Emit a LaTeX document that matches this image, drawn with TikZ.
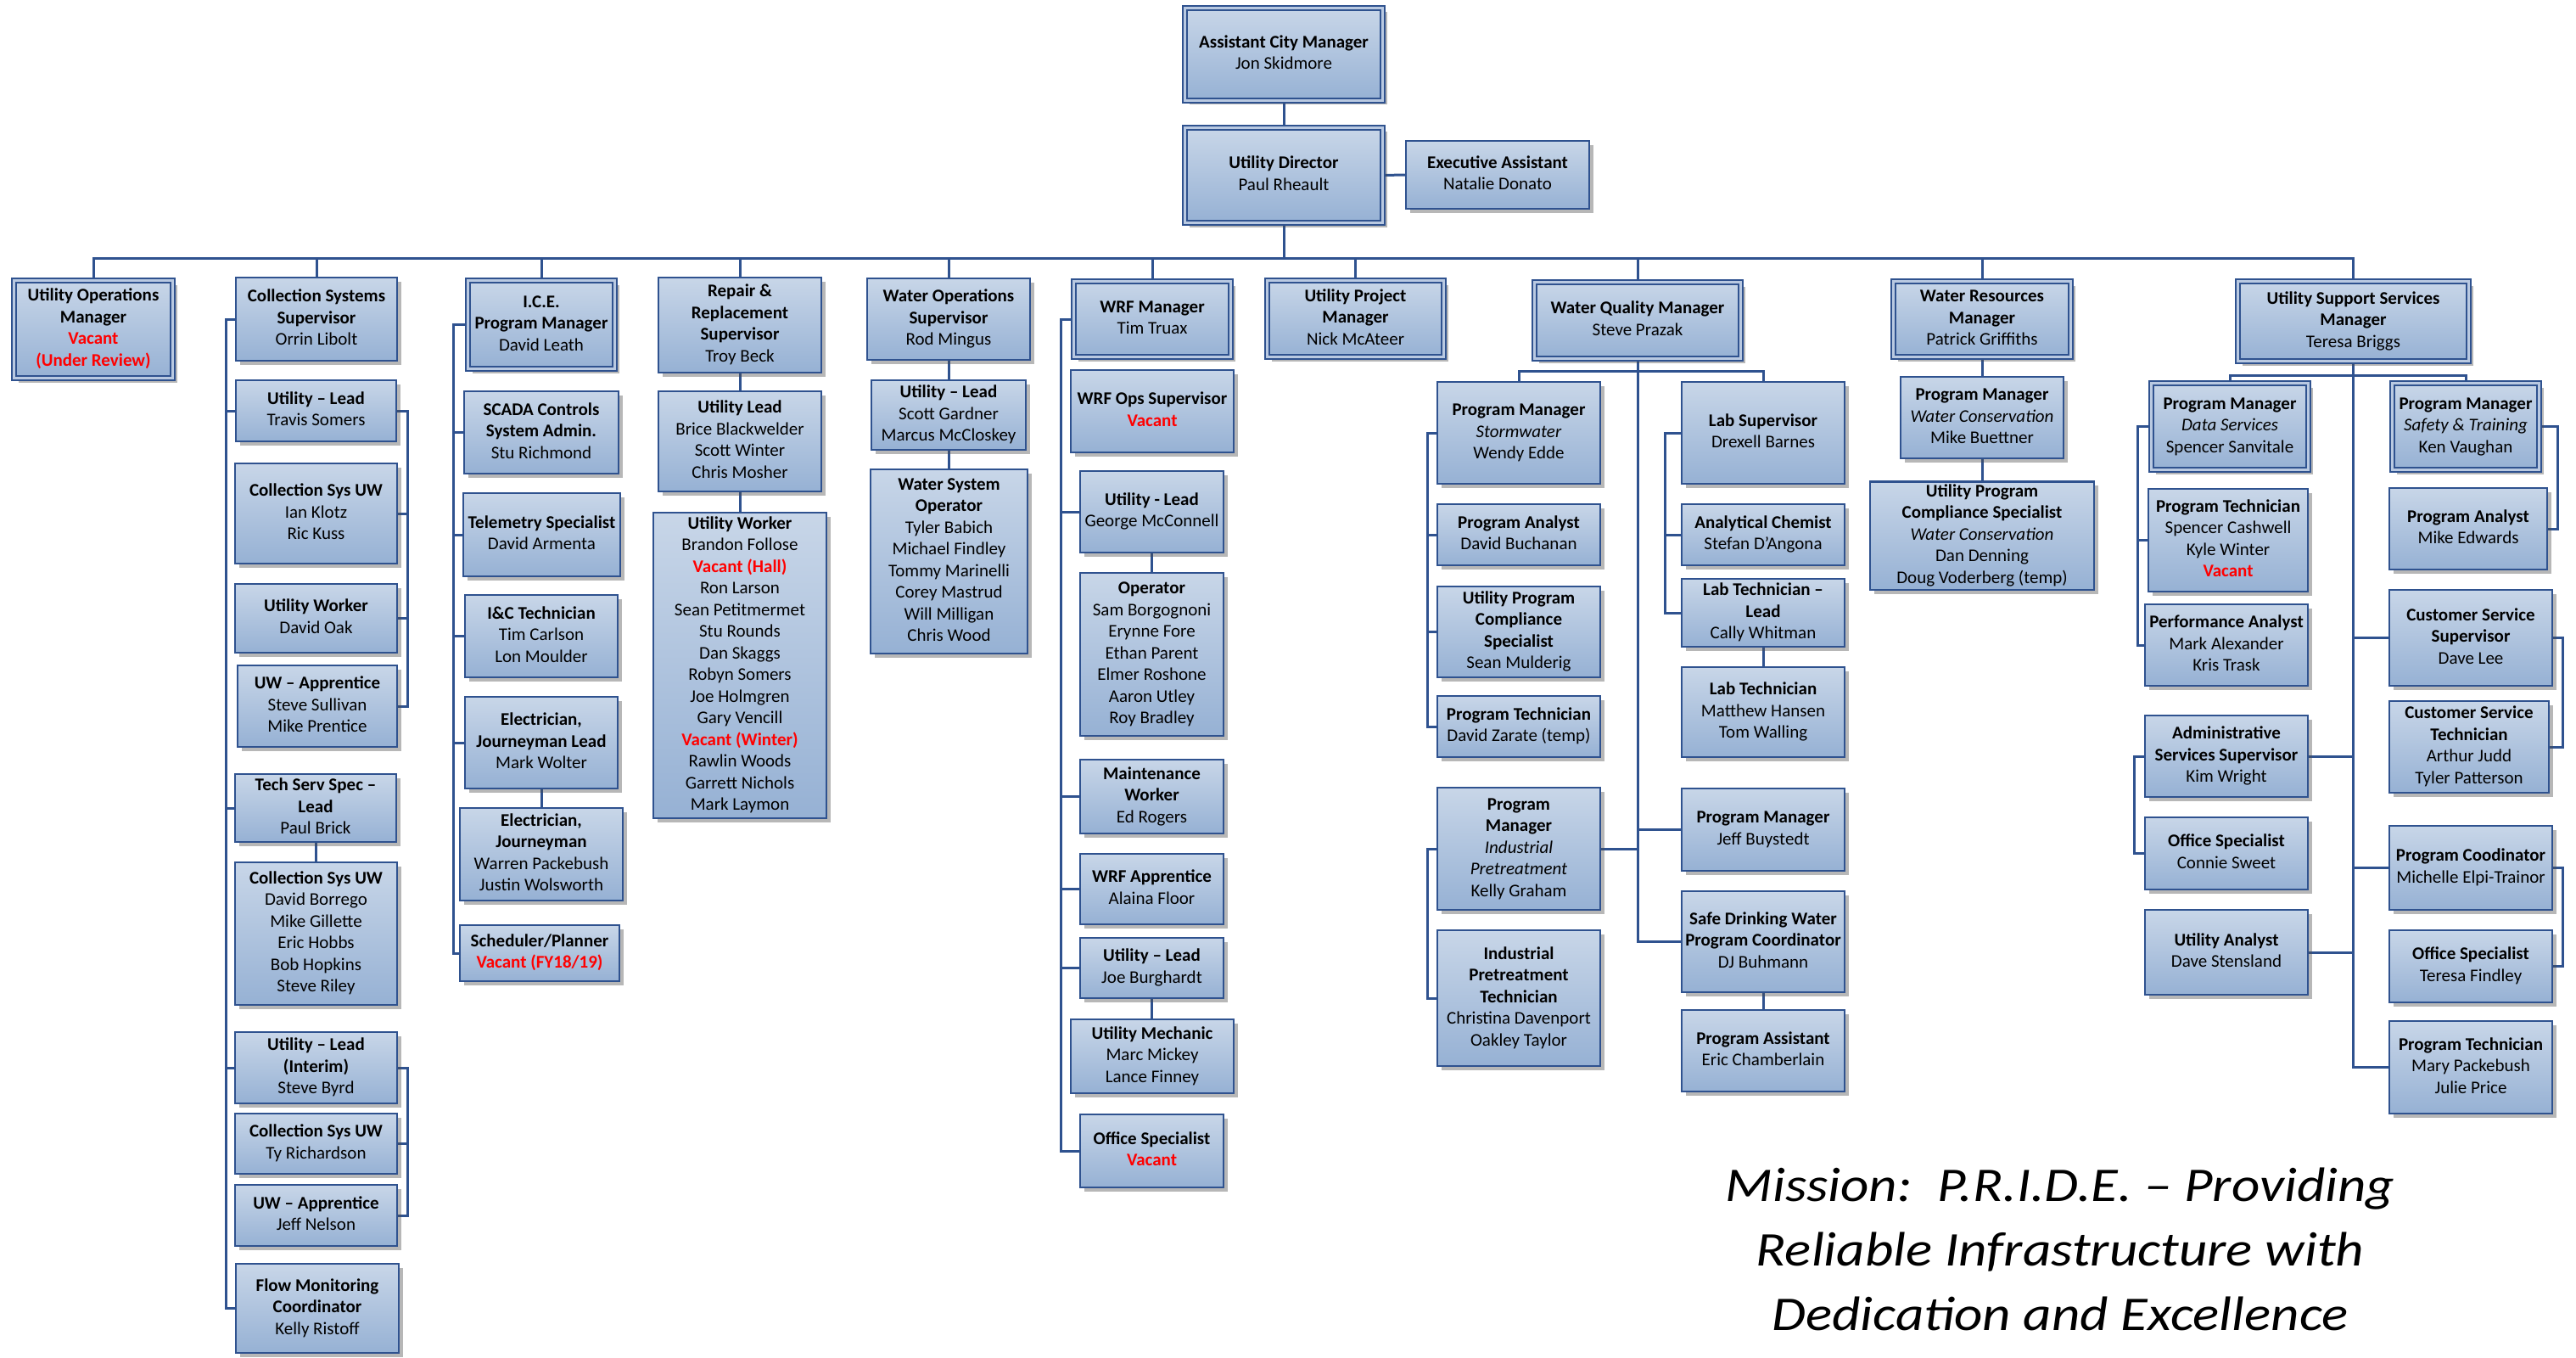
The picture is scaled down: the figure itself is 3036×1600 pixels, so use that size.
\documentclass[tikz,border=0pt]{standalone}
\usepackage{fontspec}
\setmainfont{Carlito}
\usetikzlibrary{shadows,backgrounds}
\definecolor{bcol}{RGB}{47,82,143}
\definecolor{ftop}{RGB}{200,214,232}
\definecolor{fbot}{RGB}{150,177,212}
\definecolor{gapc}{RGB}{185,201,225}
\definecolor{vred}{RGB}{255,0,0}
\newcommand\ttl[1]{\textbf{#1}}
\newcommand\vac[1]{\textbf{\textcolor{vred}{#1}}}
\newcommand\itl[1]{\textit{#1}}
\newcommand\wide[1]{\scalebox{1.14}[1]{#1}}
\tikzset{
  box/.style={draw=bcol, line width=2.5pt, top color=ftop, bottom color=fbot, inner sep=0pt,
    drop shadow={shadow xshift=5pt, shadow yshift=-5pt, opacity=0.4, fill=black!70},
    font=\fontsize{21}{25.5}\selectfont},
  dbl/.style={double=gapc, double distance=3pt, line width=2pt},
  conn/.style={draw=bcol, line width=3pt},
}
\newcommand\bx[7][]{\node[box,#1,minimum width={((#5)-(#3))*1pt},minimum height={((#6)-(#4))*1pt}] (#2) at ({((#3)+(#5))/2},{((#4)+(#6))/2}) {\makebox[0pt]{\begin{tabular}{@{}c@{}}#7\end{tabular}}};}
\newcommand\dbx[6]{\bx[dbl]{#1}{#2+3.5}{#3+3.5}{#4-3.5}{#5-3.5}{#6}}
\begin{document}
\begin{tikzpicture}[x=1pt,y=-1pt]
\useasboundingbox (0,0) rectangle (3036,1600);
% top
\dbx{acm}{1393}{6}{1633}{122}{\ttl{Assistant City Manager}\\Jon Skidmore}
\dbx{ud}{1393}{147}{1633}{266}{\ttl{Utility Director}\\Paul Rheault}
\bx{ea}{1657}{166}{1873}{246}{\ttl{Executive Assistant}\\Natalie Donato}
% level 1
\dbx{uom}{13}{327}{207}{449}{\ttl{Utility Operations}\\\ttl{Manager}\\\vac{Vacant}\\\vac{(Under Review)}}
\bx{css}{278}{327}{468}{425}{\ttl{Collection Systems}\\\ttl{Supervisor}\\Orrin Libolt}
\dbx{ice}{548}{327}{728}{438}{\ttl{I.C.E.}\\\ttl{Program Manager}\\David Leath}
\bx{rr}{776}{327}{968}{439}{\ttl{Repair \&}\\\ttl{Replacement}\\\ttl{Supervisor}\\Troy Beck}
\bx{wos}{1022}{328}{1214}{424}{\ttl{Water Operations}\\\ttl{Supervisor}\\Rod Mingus}
\dbx{wrf}{1262}{328}{1454}{424}{\ttl{WRF Manager}\\Tim Truax}
\dbx{upm}{1490}{327}{1705}{424}{\ttl{Utility Project}\\\ttl{Manager}\\Nick McAteer}
\dbx{wqm}{1805}{329}{2055}{426}{\ttl{Water Quality Manager}\\Steve Prazak}
\dbx{wrm}{2228}{328}{2444}{424}{\ttl{Water Resources}\\\ttl{Manager}\\Patrick Griffiths}
\dbx{uss}{2634}{328}{2913}{429}{\ttl{Utility Support Services}\\\ttl{Manager}\\Teresa Briggs}
% collection
\bx{cul1}{278}{448}{467}{520}{\ttl{Utility – Lead}\\Travis Somers}
\bx{cuw1}{277}{546}{468}{664}{\ttl{Collection Sys UW}\\Ian Klotz\\Ric Kuss}
\bx{cwk}{277}{688}{468}{769}{\ttl{Utility Worker}\\David Oak}
\bx{cap1}{280}{784}{468}{880}{\ttl{UW – Apprentice}\\Steve Sullivan\\Mike Prentice}
\bx{ctss}{277}{912}{467}{992}{\ttl{Tech Serv Spec –}\\\ttl{Lead}\\Paul Brick}
\bx{cuw2}{277}{1016}{468}{1184}{\ttl{Collection Sys UW}\\David Borrego\\Mike Gillette\\Eric Hobbs\\Bob Hopkins\\Steve Riley}
\bx{cul2}{277}{1216}{468}{1300}{\ttl{Utility – Lead}\\\ttl{(Interim)}\\Steve Byrd}
\bx{cuw3}{277}{1312}{468}{1383}{\ttl{Collection Sys UW}\\Ty Richardson}
\bx{cap2}{277}{1396}{468}{1468}{\ttl{UW – Apprentice}\\Jeff Nelson}
\bx{cfm}{278}{1489}{470}{1594}{\ttl{Flow Monitoring}\\\ttl{Coordinator}\\Kelly Ristoff}
% ICE
\bx{scada}{547}{461}{729}{558}{\ttl{SCADA Controls}\\\ttl{System Admin.}\\Stu Richmond}
\bx{tel}{546}{581}{731}{679}{\ttl{Telemetry Specialist}\\David Armenta}
\bx{ict}{548}{701}{728}{798}{\ttl{I\&C Technician}\\Tim Carlson\\Lon Moulder}
\bx{ejl}{548}{821}{728}{929}{\ttl{Electrician,}\\\ttl{Journeyman Lead}\\Mark Wolter}
\bx{ej}{542}{952}{734}{1061}{\ttl{Electrician,}\\\ttl{Journeyman}\\Warren Packebush\\Justin Wolsworth}
\bx{sch}{542}{1090}{730}{1156}{\ttl{Scheduler/Planner}\\\vac{Vacant (FY18/19)}}
% repair
\bx{rul}{776}{461}{968}{579}{\ttl{Utility Lead}\\Brice Blackwelder\\Scott Winter\\Chris Mosher}
\bx{ruw}{770}{604}{974}{964}{\ttl{Utility Worker}\\Brandon Follose\\\vac{Vacant (Hall)}\\Ron Larson\\Sean Petitmermet\\Stu Rounds\\Dan Skaggs\\Robyn Somers\\Joe Holmgren\\Gary Vencill\\\vac{Vacant (Winter)}\\Rawlin Woods\\Garrett Nichols\\Mark Laymon}
% water ops
\bx{wul}{1027}{448}{1209}{530}{\ttl{Utility – Lead}\\Scott Gardner\\Marcus McCloskey}
\bx{wso}{1026}{553}{1211}{770}{\ttl{Water System}\\\ttl{Operator}\\Tyler Babich\\Michael Findley\\Tommy Marinelli\\Corey Mastrud\\Will Milligan\\Chris Wood}
% WRF
\bx{wops}{1262}{436}{1454}{533}{\ttl{WRF Ops Supervisor}\\\vac{Vacant}}
\bx{wul1}{1273}{555}{1442}{651}{\ttl{Utility - Lead}\\George McConnell}
\bx{wop}{1273}{675}{1442}{867}{\ttl{Operator}\\Sam Borgognoni\\Erynne Fore\\Ethan Parent\\Elmer Roshone\\Aaron Utley\\Roy Bradley}
\bx{wmw}{1273}{895}{1442}{982}{\ttl{Maintenance}\\\ttl{Worker}\\Ed Rogers}
\bx{wap}{1273}{1006}{1442}{1089}{\ttl{WRF Apprentice}\\Alaina Floor}
\bx{wul2}{1273}{1105}{1442}{1176}{\ttl{Utility – Lead}\\Joe Burghardt}
\bx{wum}{1262}{1201}{1454}{1288}{\ttl{Utility Mechanic}\\Marc Mickey\\Lance Finney}
\bx{wos2}{1273}{1313}{1442}{1399}{\ttl{Office Specialist}\\\vac{Vacant}}
% WQM
\bx{pms}{1694}{450}{1886}{570}{\ttl{Program Manager}\\\itl{Stormwater}\\Wendy Edde}
\bx{pan}{1694}{594}{1886}{666}{\ttl{Program Analyst}\\David Buchanan}
\bx{upc}{1694}{691}{1886}{798}{\ttl{Utility Program}\\\ttl{Compliance}\\\ttl{Specialist}\\Sean Mulderig}
\bx{ptc}{1694}{820}{1886}{892}{\ttl{Program Technician}\\David Zarate (temp)}
\bx{lsup}{1982}{450}{2174}{570}{\ttl{Lab Supervisor}\\Drexell Barnes}
\bx{ach}{1982}{594}{2174}{666}{\ttl{Analytical Chemist}\\Stefan D’Angona}
\bx{ltl}{1982}{682}{2174}{762}{\ttl{Lab Technician –}\\\ttl{Lead}\\Cally Whitman}
\bx{ltc}{1982}{786}{2174}{892}{\ttl{Lab Technician}\\Matthew Hansen\\Tom Walling}
\bx{pmi}{1694}{928}{1886}{1072}{\ttl{Program}\\\ttl{Manager}\\\itl{Industrial}\\\itl{Pretreatment}\\Kelly Graham}
\bx{ipt}{1694}{1096}{1886}{1256}{\ttl{Industrial}\\\ttl{Pretreatment}\\\ttl{Technician}\\Christina Davenport\\Oakley Taylor}
\bx{pmj}{1982}{929}{2174}{1026}{\ttl{Program Manager}\\Jeff Buystedt}
\bx{sdw}{1982}{1050}{2174}{1169}{\ttl{Safe Drinking Water}\\\ttl{Program Coordinator}\\DJ Buhmann}
\bx{pas}{1982}{1190}{2174}{1286}{\ttl{Program Assistant}\\Eric Chamberlain}
% WRM
\bx{pmw}{2240}{444}{2432}{540}{\ttl{Program Manager}\\\itl{Water Conservation}\\Mike Buettner}
\bx{upcw}{2204}{568}{2468}{694}{\ttl{Utility Program}\\\ttl{Compliance Specialist}\\\itl{Water Conservation}\\Dan Denning\\Doug Voderberg (temp)}
% USS
\dbx{pmd}{2532}{448}{2724}{557}{\ttl{Program Manager}\\\itl{Data Services}\\Spencer Sanvitale}
\dbx{pmst}{2816}{448}{2996}{557}{\ttl{Program Manager}\\\itl{Safety \& Training}\\Ken Vaughan}
\bx{ptech}{2532}{576}{2720}{697}{\ttl{Program Technician}\\Spencer Cashwell\\Kyle Winter\\\vac{Vacant}}
\bx{perf}{2528}{712}{2720}{808}{\ttl{Performance Analyst}\\Mark Alexander\\Kris Trask}
\bx{pan2}{2816}{575}{3002}{671}{\ttl{Program Analyst}\\Mike Edwards}
\bx{csup}{2816}{695}{3008}{808}{\ttl{Customer Service}\\\ttl{Supervisor}\\Dave Lee}
\bx{cst}{2816}{826}{3004}{934}{\ttl{Customer Service}\\\ttl{Technician}\\Arthur Judd\\Tyler Patterson}
\bx{ass}{2528}{843}{2720}{939}{\ttl{Administrative}\\\ttl{Services Supervisor}\\Kim Wright}
\bx{osc}{2528}{963}{2720}{1048}{\ttl{Office Specialist}\\Connie Sweet}
\bx{ua}{2528}{1072}{2720}{1172}{\ttl{Utility Analyst}\\Dave Stensland}
\bx{pco}{2816}{973}{3008}{1072}{\ttl{Program Coodinator}\\Michelle Elpi-Trainor}
\bx{osf}{2816}{1096}{3008}{1181}{\ttl{Office Specialist}\\Teresa Findley}
\bx{ptm}{2816}{1203}{3008}{1312}{\ttl{Program Technician}\\Mary Packebush\\Julie Price}
% mission
\node[font=\fontsize{57}{76}\selectfont\itshape, align=center, inner sep=0pt] (mis) at (2428,1472) {\wide{Mission:\ \ P.R.I.D.E. – Providing}\\\wide{Reliable Infrastructure with}\\\wide{Dedication and Excellence}};
% coordinates
\coordinate (bus) at (0,304);
\coordinate (cL) at (266,0); \coordinate (cR) at (480,0);
\coordinate (iL) at (534,0);
\coordinate (fL) at (1250,0);
\coordinate (qb) at (0,437); \coordinate (qL) at (1682,0); \coordinate (qR) at (1962,0);
\coordinate (ub) at (0,442); \coordinate (uL) at (2519,0); \coordinate (uL2) at (2515,0);
\coordinate (uR) at (3014,0); \coordinate (uR2) at (3020,0);
\begin{pgfonlayer}{background}
\fill[white] (0,0) rectangle (3036,1600);
\draw[conn] (acm.south) -- (ud.north);
\draw[conn] (ud.east) -- (ea.west);
\foreach \n in {uom,css,ice,rr,wos,wrf,upm,wqm,wrm,uss}
  \draw[conn] (ud.south) -- (ud.south |- bus) -| (\n.north);
% collection
\foreach \n in {cul1,ctss,cul2,cfm}
  \draw[conn] (css.west) -- (css.west -| cL) |- (\n.west);
\foreach \n in {cuw1,cwk,cap1}
  \draw[conn] (cul1.east) -- (cul1.east -| cR) |- (\n.east);
\draw[conn] (ctss.south) -- (ctss.south |- cuw2.north);
\foreach \n in {cuw3,cap2}
  \draw[conn] (cul2.east) -- (cul2.east -| cR) |- (\n.east);
% ICE
\foreach \n in {scada,tel,ict,ejl,sch}
  \draw[conn] (ice.west) -- (ice.west -| iL) |- (\n.west);
\draw[conn] (ejl.south) -- (ejl.south |- ej.north);
% repair
\draw[conn] (rr.south) -- (rr.south |- rul.north);
\draw[conn] (rul.south) -- (rul.south |- ruw.north);
% water ops
\draw[conn] (wos.south) -- (wos.south |- wul.north);
\draw[conn] (wul.south) -- (wul.south |- wso.north);
% WRF
\foreach \n in {wul1,wmw,wap,wul2,wos2}
  \draw[conn] (wrf.west) -- (wrf.west -| fL) |- (\n.west);
\draw[conn] (wul1.south) -- (wul1.south |- wop.north);
\draw[conn] (wul2.south) -- (wul2.south |- wum.north);
% WQM
\draw[conn] (wqm.south) -- (wqm.south |- qb) -| (pms.north);
\draw[conn] (wqm.south) -- (wqm.south |- qb) -| (lsup.north);
\foreach \n in {pan,upc,ptc}
  \draw[conn] (pms.west) -- (pms.west -| qL) |- (\n.west);
\foreach \n in {ach,ltl}
  \draw[conn] (lsup.west) -- (lsup.west -| qR) |- (\n.west);
\draw[conn] (ltl.south) -- (ltl.south |- ltc.north);
\draw[conn] (wqm.south) |- (pmj.west);
\draw[conn] (wqm.south) |- (sdw.west);
\draw[conn] (wqm.south) |- (pmi.east);
\draw[conn] (pmi.west) -- (pmi.west -| qL) |- (ipt.west);
\draw[conn] (sdw.south) -- (sdw.south |- pas.north);
% WRM
\draw[conn] (wrm.south) -- (wrm.south |- pmw.north);
\draw[conn] (pmw.south) -- (pmw.south |- upcw.north);
% USS
\draw[conn] (uss.south) -- (uss.south |- ub) -| (pmd.north);
\draw[conn] (uss.south) -- (uss.south |- ub) -| (pmst.north);
\foreach \n in {ptech,perf}
  \draw[conn] (pmd.west) -- (pmd.west -| uL) |- (\n.west);
\draw[conn] (pmst.east) -- (pmst.east -| uR) |- (pan2.east);
\foreach \n in {csup,pco,ptm}
  \draw[conn] (uss.south) |- (\n.west);
\foreach \n in {ass,ua}
  \draw[conn] (uss.south) |- (\n.east);
\draw[conn] (csup.east) -- (csup.east -| uR2) |- (cst.east);
\draw[conn] (ass.west) -- (ass.west -| uL2) |- (osc.west);
\draw[conn] (pco.east) -- (pco.east -| uR2) |- (osf.east);
\end{pgfonlayer}
\end{tikzpicture}
\end{document}
